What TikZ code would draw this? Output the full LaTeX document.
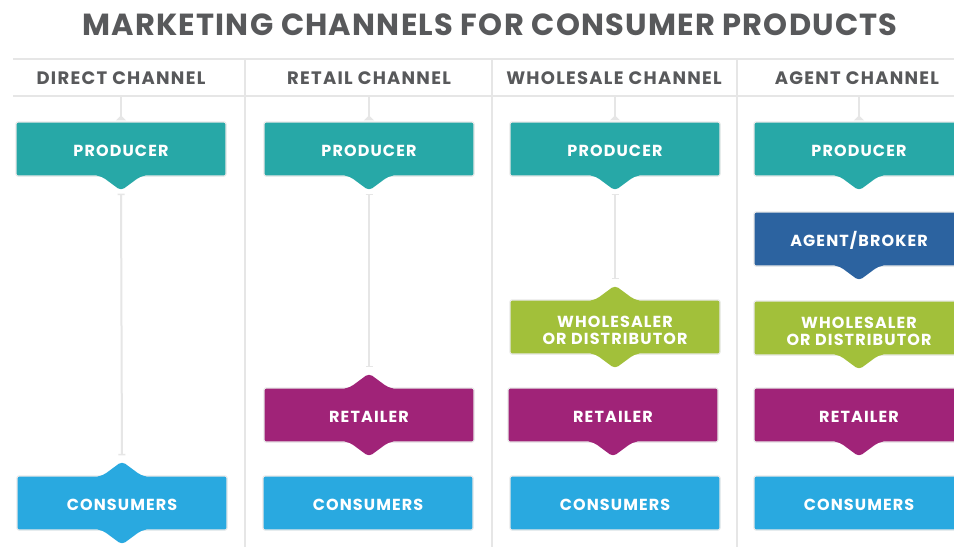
\documentclass[tikz,border=0pt]{standalone}
\usepackage{fontspec}
\setmainfont{Poppins}
\usetikzlibrary{arrows.meta}
\definecolor{tealc}{HTML}{27A8A7}
\definecolor{bluec}{HTML}{2C63A0}
\definecolor{greenc}{HTML}{A2C03A}
\definecolor{purplec}{HTML}{A02378}
\definecolor{skyc}{HTML}{29A9E0}
\definecolor{txtc}{HTML}{58595B}
\definecolor{rulec}{HTML}{E6E6E6}
\newcommand\notchdown[2]{\fill[#2,rounded corners=4pt] ([xshift=-27pt,yshift=1.5pt]#1.south) -- ([xshift=-19pt]#1.south) -- ([yshift=-14pt]#1.south) -- ([xshift=19pt]#1.south) -- ([xshift=27pt,yshift=1.5pt]#1.south) -- cycle;}
\newcommand\notchup[2]{\fill[#2,rounded corners=4pt] ([xshift=-27pt,yshift=-1.5pt]#1.north) -- ([xshift=-19pt]#1.north) -- ([yshift=14pt]#1.north) -- ([xshift=19pt]#1.north) -- ([xshift=27pt,yshift=-1.5pt]#1.north) -- cycle;}
\begin{document}
\begin{tikzpicture}[x=1pt,y=-1pt,
  box/.style={rectangle, rounded corners=2pt, minimum width=210pt, minimum height=54pt, inner sep=0pt,
    text=white, font=\bfseries\fontsize{16}{17.5}\selectfont\addfontfeature{LetterSpace=7}, align=center,
    draw=black!9, line width=1.2pt, text height=15pt, text depth=0pt},
  twoline/.style={text height=35.5pt},
  head/.style={text=txtc, font=\bfseries\fontsize{18}{20}\selectfont\addfontfeature{LetterSpace=7}},
  rul/.style={draw=rulec, line width=2pt},
  conn/.style={draw=rulec, line width=2pt, {Bar[width=7pt,line width=1.5pt]}-{Bar[width=7pt,line width=1.5pt]}, shorten <=3pt, shorten >=6pt},
  topconn/.style={draw=rulec, line width=2pt, -{Triangle[reversed,width=10pt,length=5pt]}, shorten >=1pt}
]
\useasboundingbox (0,0) rectangle (954,547);
\fill[white] (0,0) rectangle (954,547);

% title
\node[text=txtc, font=\bfseries\fontsize{30.5}{34}\selectfont\addfontfeature{LetterSpace=4}] (title) at (490,25) {MARKETING CHANNELS FOR CONSUMER PRODUCTS};

% rules
\draw[rul] (13,59) -- (954,59);
\draw[rul] (13,96) -- (954,96);
\draw[rul] (245,59) -- (245,547);
\draw[rul] (492,59) -- (492,547);
\draw[rul] (737,59) -- (737,547);

% headers
\node[head] (h1) at (121,78) {DIRECT CHANNEL};
\node[head] (h2) at (369,78) {RETAIL CHANNEL};
\node[head] (h3) at (614,78) {WHOLESALE CHANNEL};
\node[head] (h4) at (857,78) {AGENT CHANNEL};

\coordinate (t1) at (121,96);
\coordinate (t2) at (369,96);
\coordinate (t3) at (615,96);
\coordinate (t4) at (859,96);

% column 1
\node[box, fill=tealc] (p1) at (121,149) {PRODUCER};
\node[box, fill=skyc] (c1) at (122,503) {CONSUMERS};
% column 2
\node[box, fill=tealc] (p2) at (369,149) {PRODUCER};
\node[box, fill=purplec] (r2) at (369,415) {RETAILER};
\node[box, fill=skyc] (c2) at (368,503) {CONSUMERS};
% column 3
\node[box, fill=tealc] (p3) at (615,149) {PRODUCER};
\node[box, twoline, fill=greenc] (w3) at (615,327) {WHOLESALER\\OR DISTRIBUTOR};
\node[box, fill=purplec] (r3) at (613,415) {RETAILER};
\node[box, fill=skyc] (c3) at (615,503) {CONSUMERS};
% column 4
\node[box, fill=tealc] (p4) at (859,149) {PRODUCER};
\node[box, fill=bluec] (a4) at (859,239) {AGENT/BROKER};
\node[box, twoline, fill=greenc] (w4) at (859,328) {WHOLESALER\\OR DISTRIBUTOR};
\node[box, fill=purplec] (r4) at (859,415) {RETAILER};
\node[box, fill=skyc] (c4) at (859,503) {CONSUMERS};

% notches
\notchdown{p1}{tealc}
\notchdown{p2}{tealc}
\notchdown{p3}{tealc}
\notchdown{p4}{tealc}
\notchdown{a4}{bluec}
\notchdown{w3}{greenc}
\notchdown{w4}{greenc}
\notchdown{r2}{purplec}
\notchdown{r3}{purplec}
\notchdown{r4}{purplec}
\notchdown{c1}{skyc}
\notchup{c1}{skyc}
\notchup{r2}{purplec}
\notchup{w3}{greenc}

% notch tips
\coordinate (p1tip) at ([yshift=-14pt]p1.south);
\coordinate (p2tip) at ([yshift=-14pt]p2.south);
\coordinate (p3tip) at ([yshift=-14pt]p3.south);
\coordinate (c1top) at ([yshift=14pt]c1.north);
\coordinate (r2top) at ([yshift=14pt]r2.north);
\coordinate (w3top) at ([yshift=14pt]w3.north);

% connectors
\draw[topconn] (t1) -- (p1.north);
\draw[topconn] (t2) -- (p2.north);
\draw[topconn] (t3) -- (p3.north);
\draw[topconn] (t4) -- (p4.north);
\draw[conn] (p1tip) -- (c1top);
\draw[conn] (p2tip) -- (r2top);
\draw[conn] (p3tip) -- (w3top);
\end{tikzpicture}
\end{document}
